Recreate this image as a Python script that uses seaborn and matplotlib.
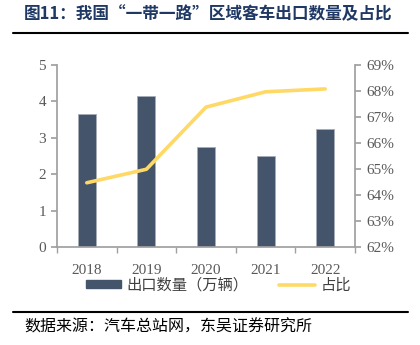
import matplotlib
matplotlib.use("Agg")
import matplotlib.pyplot as plt
import seaborn as sns
import pandas as pd
import numpy as np
from matplotlib.lines import Line2D

years = ["2018", "2019", "2020", "2021", "2022"]
exports = [3.65, 4.15, 2.75, 2.5, 3.24]
share = [64.47, 64.99, 67.38, 67.97, 68.08]
title = "图11：我国“一带一路”区域客车出口数量及占比"
source = "数据来源：汽车总站网，东吴证券研究所"
bar_label = "出口数量（万辆）"
line_label = "占比"

sns.set_theme(style="white")
cjk = ["Noto Sans CJK SC", "DejaVu Sans"]
serif = ["Liberation Serif", "DejaVu Serif"]
plt.rcParams['font.family'] = cjk

df = pd.DataFrame({"year": years, "exports": exports, "share": share})

fig = plt.figure(figsize=(4.2, 3.45), dpi=100)
ax = fig.add_axes([57/420, 1-247/345, 298/420, 182/345])
sns.barplot(data=df, x="year", y="exports", ax=ax, color="#44546a",
            width=0.3, edgecolor="#a6adb8", linewidth=0.6, saturation=1)
ax.set_ylim(0, 5)
ax.set_xlim(-0.5, 4.5)
ax.set_xlabel("")
ax.set_ylabel("")
ax2 = ax.twinx()
sns.lineplot(x=np.arange(len(years)), y=share, ax=ax2, color="#ffd966", linewidth=2.6)
ax2.set_ylim(62, 69)
ax2.set_yticks(range(62, 70))
ax2.set_yticklabels([f"{v}%" for v in range(62, 70)])

gray = "#a0a0a0"
for a in (ax, ax2):
    for s in a.spines.values():
        s.set_visible(False)
ax.spines["left"].set_visible(True)
ax.spines["left"].set_color(gray)
ax.spines["bottom"].set_visible(True)
ax.spines["bottom"].set_color(gray)
ax2.spines["right"].set_visible(True)
ax2.spines["right"].set_color(gray)

ax.set_yticks(range(0, 6))
ax.tick_params(axis="y", left=True, length=4, color=gray, labelsize=11, labelcolor="#595959", pad=4)
ax.tick_params(axis="x", bottom=False, labelsize=11, labelcolor="#595959", pad=6)
ax.set_xticks(np.arange(-0.5, 5, 1), minor=True)
ax.tick_params(axis="x", which="minor", bottom=True, length=4, color=gray, direction="out")
ax2.tick_params(axis="y", right=True, length=4, color=gray, labelsize=11, labelcolor="#595959", pad=4)
for lbl in ax.get_xticklabels() + ax.get_yticklabels() + ax2.get_yticklabels():
    lbl.set_fontfamily(serif)

handles = [plt.Rectangle((0, 0), 1, 1, color="#44546a"),
           Line2D([0], [0], color="#ffd966", linewidth=2.6)]
fig.legend(handles, [bar_label, line_label], loc="center", bbox_to_anchor=(0.52, 1-285/345),
           ncol=2, frameon=False, fontsize=11, handlelength=2.3, handleheight=0.45,
           columnspacing=2.0, handletextpad=0.4, labelcolor="#404040")

fig.text(24/420, 1-14/345, title, fontsize=12, fontweight="bold", color="#1f3864", va="center")
fig.add_artist(Line2D([13/420, 408/420], [1-33/345, 1-33/345], color="black", linewidth=1.5))
fig.add_artist(Line2D([13/420, 408/420], [1-312/345, 1-312/345], color="black", linewidth=1.5))
fig.text(24/420, 1-327/345, source, fontsize=11.5, color="black", va="center")

fig.savefig("out.png", dpi=100)
